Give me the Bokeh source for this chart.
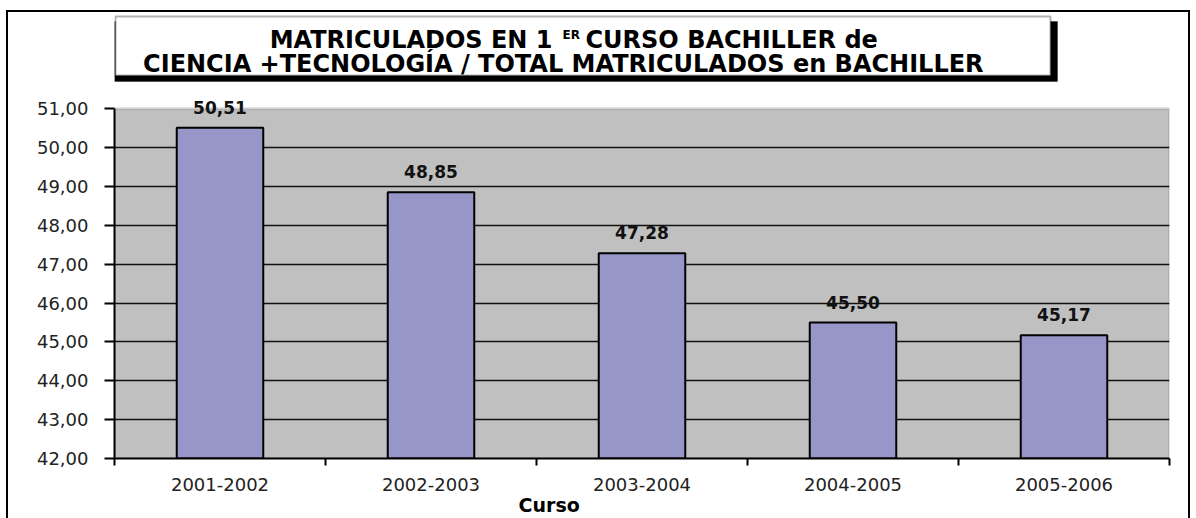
import numpy as np
from bokeh.plotting import figure
from bokeh.models import (Range1d, FixedTicker, Label, LabelSet, BoxAnnotation,
                          ColumnDataSource, LinearAxis)
from bokeh.core.properties import value
from bokeh.embed import file_html
from bokeh.resources import INLINE

# ---- data ----
cursos = ["2001-2002", "2002-2003", "2003-2004", "2004-2005", "2005-2006"]
porcentajes = [50.51, 48.85, 47.28, 45.50, 45.17]
etiquetas = ["50,51", "48,85", "47,28", "45,50", "45,17"]
y_ticks = [42, 43, 44, 45, 46, 47, 48, 49, 50, 51]
y_tick_labels = ["42,00", "43,00", "44,00", "45,00", "46,00",
                 "47,00", "48,00", "49,00", "50,00", "51,00"]
titulo_1a = "MATRICULADOS EN 1"
titulo_1b = "ER"
titulo_1c = "CURSO BACHILLER de"
titulo_2 = "CIENCIA +TECNOLOGÍA  / TOTAL MATRICULADOS en BACHILLER"
eje_x = "Curso"

FONT = "DejaVu Sans"

pos = np.arange(len(cursos))
bounds = np.arange(len(cursos) + 1) - 0.5
y_min, y_max = y_ticks[0], y_ticks[-1]

# layout (pixels)
W, H = 1196, 518
FRAME_L, FRAME_R, FRAME_B = 114, 1169, 461
PLOT_TOP = 109                     # pixel row of the top of the grey plot area
px_per_unit = (FRAME_B - PLOT_TOP) / (y_max - y_min)
y_end = y_min + FRAME_B / px_per_unit   # frame reaches the top of the canvas
CURSO_AT = 1.56                    # horizontal place of the axis title (x units)

src = ColumnDataSource(dict(x=pos, top=porcentajes, label=etiquetas))

p = figure(width=W, height=H, output_backend="svg", toolbar_location=None,
           x_range=Range1d(bounds[0], bounds[-1]), y_range=Range1d(y_min, y_end),
           min_border_left=FRAME_L, min_border_right=W - FRAME_R,
           min_border_top=0, min_border_bottom=H - FRAME_B)
p.title.visible = False
p.background_fill_color = None
p.border_fill_color = None
p.outline_line_color = None
p.styles = {
    "background-color": "white",
    "background-image": "linear-gradient(#000,#000), linear-gradient(#000,#000), "
                        "linear-gradient(#000,#000)",
    "background-size": "2px 600px, 1184px 2px, 2px 600px",
    "background-position": "6px 10px, 6px 10px, 1188px 10px",
    "background-repeat": "no-repeat",
}

# grey plot area
p.add_layout(BoxAnnotation(left=bounds[0], right=bounds[-1], bottom=y_min, top=y_max,
                           fill_color="#c0c0c0", fill_alpha=1,
                           line_color="#8c8c8c", line_width=3, level="image"))

p.vbar(x="x", top="top", bottom=y_min, width=0.41, source=src,
       fill_color="#9696c9", line_color="black", line_width=2)

p.add_layout(LabelSet(x="x", y="top", text="label", source=src,
                      text_align="center", text_baseline="alphabetic",
                      y_offset=14, text_font=value(FONT), text_font_style="bold",
                      text_font_size="17px", text_color="#111111"))

# axes
xa = p.xaxis[0]
xa.ticker = FixedTicker(ticks=list(pos), minor_ticks=list(bounds))
xa.major_label_overrides = {int(i): c for i, c in zip(pos, cursos)}
xa.major_tick_out = 0
xa.major_tick_in = 0
xa.major_tick_line_color = None
xa.minor_tick_out = 7
xa.minor_tick_in = 0
xa.minor_tick_line_color = "black"
xa.minor_tick_line_width = 2
xa.axis_line_color = "black"
xa.axis_line_width = 2
xa.major_label_text_font = FONT
xa.major_label_text_font_size = "18px"
xa.major_label_text_color = "#222222"
xa.major_label_standoff = 12

# axis that only carries the "Curso" title, placed where the original puts it
xt = LinearAxis(ticker=FixedTicker(ticks=[CURSO_AT], minor_ticks=[]),
                major_label_overrides={CURSO_AT: eje_x},
                axis_line_color=None, major_tick_line_color=None,
                minor_tick_line_color=None, major_tick_out=0, major_tick_in=0,
                minor_tick_out=0, minor_tick_in=0, major_label_standoff=0,
                major_label_text_font=FONT, major_label_text_font_style="bold",
                major_label_text_font_size="19px", major_label_text_color="black")
p.add_layout(xt, "below")

ya = p.yaxis[0]
ya.bounds = (y_min, y_max)
ya.ticker = FixedTicker(ticks=y_ticks, minor_ticks=[])
ya.major_label_overrides = {t: l for t, l in zip(y_ticks, y_tick_labels)}
ya.major_tick_out = 10
ya.major_tick_in = 0
ya.major_tick_line_color = "black"
ya.major_tick_line_width = 2
ya.axis_line_color = "black"
ya.axis_line_width = 2
ya.major_label_text_font = FONT
ya.major_label_text_font_size = "18px"
ya.major_label_text_color = "#222222"
ya.major_label_standoff = 16

p.xgrid.grid_line_color = None
p.ygrid.ticker = FixedTicker(ticks=y_ticks[:-1], minor_ticks=[])
p.ygrid.grid_line_color = "#111111"
p.ygrid.grid_line_width = 1.5

# title box with shadow (screen units, relative to the frame)
p.add_layout(BoxAnnotation(left=0, right=943, top=437, bottom=377,
                           left_units="screen", right_units="screen",
                           top_units="screen", bottom_units="screen",
                           fill_color="black", fill_alpha=1, line_color="black"))
p.add_layout(BoxAnnotation(left=1, right=936, top=442, bottom=383,
                           left_units="screen", right_units="screen",
                           top_units="screen", bottom_units="screen",
                           fill_color="white", fill_alpha=1, line_color="black",
                           line_width=2))

common = dict(x_units="screen", y_units="screen", text_font=FONT,
              text_font_style="bold", text_color="black",
              text_baseline="alphabetic")
p.add_layout(Label(x=438, y=419, text=titulo_1a, text_align="right",
                   text_font_size="24px", **common))
p.add_layout(Label(x=448, y=424, text=titulo_1b, text_align="left",
                   text_font_size="12px", **common))
p.add_layout(Label(x=471, y=419, text=titulo_1c, text_align="left",
                   text_font_size="24px", **common))
p.add_layout(Label(x=453, y=395, text=titulo_2, text_align="center",
                   text_font_size="24px", **common))

open("out.html", "w").write(file_html(p, INLINE))
